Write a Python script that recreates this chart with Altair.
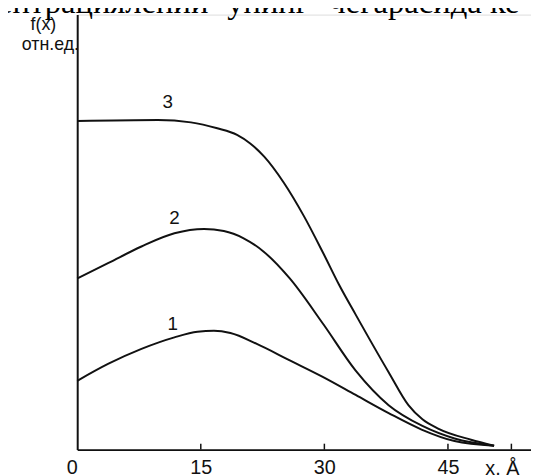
import altair as alt
import pandas as pd

# --- data (x in Å, f(x) in relative units) ---
x1 = [0, 3.8, 7.8, 11.8, 14.6, 16.6, 18.6, 21.8, 25.8, 29.8, 33.8, 37.8, 41.8, 45.8, 50.6]
y1 = [0.209, 0.261, 0.306, 0.341, 0.358, 0.361, 0.354, 0.321, 0.271, 0.221, 0.166, 0.111, 0.061, 0.026, 0.012]

x2 = [0, 3.8, 7.8, 11.8, 15.4, 17.8, 20.2, 22.6, 25.8, 29.9, 33.8, 37.8, 41.9, 45.8, 50.6]
y2 = [0.520, 0.567, 0.617, 0.657, 0.670, 0.664, 0.642, 0.602, 0.520, 0.380, 0.240, 0.135, 0.072, 0.034, 0.012]

x3 = [0, 9.8, 13.8, 17.0, 19.4, 21.0, 22.7, 25.1, 27.5, 29.9, 31.8, 33.8, 37.8, 40.2, 41.9, 43.8, 47.8, 50.6]
y3 = [0.998, 1.001, 0.994, 0.976, 0.956, 0.930, 0.890, 0.810, 0.710, 0.595, 0.500, 0.410, 0.235, 0.135, 0.092, 0.064, 0.030, 0.012]

curve_names = ["1", "2", "3"]
curve_label_x = [11.6, 11.8, 11.0]
curve_label_y = [0.381, 0.703, 1.057]

tick_values = [0, 15, 30, 45]
inner_ticks = [15, 30, 45, 52.7]
x_unit_label = "x, Å"
y_title_lines = ["f(x)", "отн.ед."]
header_words = ["ентрациялении", "унинг", "чегарасида ке"]
header_x = [-9.6, 18.2, 30.6]

X_MAX = 55.08
Y_MAX = 1.3213

rows = []
for name, xs_, ys_ in zip(curve_names, [x1, x2, x3], [y1, y2, y3]):
    for xv, yv in zip(xs_, ys_):
        rows.append({"curve": name, "x": xv, "y": yv})
df = pd.DataFrame(rows)

xs = alt.Scale(domain=[0, X_MAX], nice=False, zero=False)
ys = alt.Scale(domain=[0, Y_MAX], nice=False, zero=False)

FONT = "Liberation Sans"

lines = alt.Chart(df).mark_line(
    interpolate="monotone", color="#111111", strokeWidth=2
).encode(
    x=alt.X("x:Q", scale=xs, axis=alt.Axis(
        values=tick_values, title=None, grid=False, tickSize=0,
        domainColor="#111111", domainWidth=2, labelColor="#111111",
        labelFont=FONT, labelFontSize=20, labelPadding=8,
        labelAlign=alt.expr("datum.value == 0 ? 'right' : 'center'"),
        format="d")),
    y=alt.Y("y:Q", scale=ys, axis=alt.Axis(
        title=None, grid=False, ticks=False, labels=False,
        domainColor="#111111", domainWidth=2)),
    detail="curve:N",
)

lab_df = pd.DataFrame({"t": curve_names, "x": curve_label_x, "y": curve_label_y})
curve_labels = alt.Chart(lab_df).mark_text(
    font=FONT, fontSize=19, color="#111111"
).encode(x=alt.X("x:Q", scale=xs), y=alt.Y("y:Q", scale=ys), text="t:N")

tick_df = pd.DataFrame({"x": inner_ticks, "y0": [0] * len(inner_ticks),
                        "y1": [0.018] * len(inner_ticks)})
ticks = alt.Chart(tick_df).mark_rule(color="#111111", strokeWidth=1.5).encode(
    x=alt.X("x:Q", scale=xs), y=alt.Y("y0:Q", scale=ys), y2="y1:Q")

unit_df = pd.DataFrame({"t": [x_unit_label], "x": [51.6], "y": [-0.06]})
unit_label = alt.Chart(unit_df).mark_text(
    font=FONT, fontSize=20, color="#111111", baseline="middle"
).encode(x=alt.X("x:Q", scale=xs), y=alt.Y("y:Q", scale=ys), text="t:N")

ytitle_df = pd.DataFrame({"t": y_title_lines, "x": [-4.1, -3.25], "y": [1.289, 1.228]})
y_title = alt.Chart(ytitle_df).mark_text(
    font=FONT, fontSize=18, color="#111111", baseline="middle"
).encode(x=alt.X("x:Q", scale=xs), y=alt.Y("y:Q", scale=ys), text="t:N")

head_df = pd.DataFrame({"t": header_words, "x": header_x, "y": [1.327] * 3})
header = alt.Chart(head_df).mark_text(
    font="Liberation Serif", fontSize=33, color="#000000",
    align="left", baseline="alphabetic"
).encode(x=alt.X("x:Q", scale=xs), y=alt.Y("y:Q", scale=ys), text="t:N")

chart = alt.layer(lines, ticks, curve_labels, unit_label, y_title, header).properties(
    width=459, height=440,
    autosize=alt.AutoSizeParams(type="none"),
    padding={"left": 70, "top": 4, "right": 0, "bottom": 25},
).configure_view(stroke=None).configure(background="white")

chart.save("out.html", embed_options={"renderer": "svg", "actions": False})
